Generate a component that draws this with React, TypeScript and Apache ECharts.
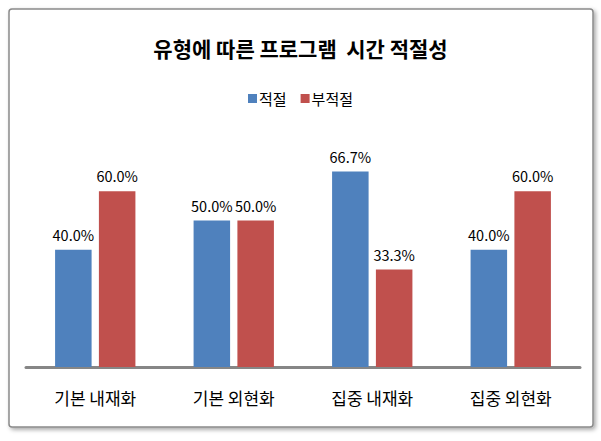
import React, { useEffect, useRef } from "react";
import * as echarts from "echarts";

const categories = ["기본 내재화", "기본 외현화", "집중 내재화", "집중 외현화"];
const seriesNames = ["적절", "부적절"];
const appropriate = [40.0, 50.0, 66.7, 40.0];
const inappropriate = [60.0, 50.0, 33.3, 60.0];
const colors = ["#4F81BD", "#C0504D"];
const titleText = "유형에 따른 프로그램  시간 적절성";

const FONT = "'Noto Sans CJK KR', 'Noto Sans', sans-serif";

export default function App() {
  const ref = useRef<HTMLDivElement>(null);
  useEffect(() => {
    if (!ref.current) return;
    const chart = echarts.init(ref.current, undefined, { renderer: "svg" });
    const label = {
      show: true,
      position: "top" as const,
      distance: 8,
      formatter: (p: any) => p.value.toFixed(1) + "%",
      color: "#000",
      fontSize: 14.5,
      fontFamily: FONT,
    };
    chart.setOption({
      animation: false,
      backgroundColor: "#fff",
      textStyle: { fontFamily: FONT },
      graphic: [
        {
          type: "rect",
          shape: { x: 9, y: 9, width: 584, height: 418, r: 3 },
          style: {
            fill: "#fff",
            stroke: "#8a8a8a",
            lineWidth: 1.5,
            shadowBlur: 4,
            shadowOffsetX: 2,
            shadowOffsetY: 2,
            shadowColor: "rgba(0,0,0,0.35)",
          },
          z: -10,
          silent: true,
        },
      ],
      title: {
        text: titleText,
        left: "center",
        top: 32,
        textStyle: { fontSize: 21, fontWeight: "bold", color: "#000", fontFamily: FONT },
      },
      legend: {
        data: seriesNames,
        top: 86,
        left: "center",
        itemWidth: 9,
        itemHeight: 9,
        itemGap: 14,
        icon: "rect",
        textStyle: { fontSize: 15, color: "#000", fontFamily: FONT, padding: [0, 0, 0, -3] },
      },
      grid: { left: 26, right: 21, top: 74, bottom: 74, containLabel: false },
      xAxis: {
        type: "category",
        data: categories,
        axisLine: { show: true, lineStyle: { color: "#868686", width: 3 } },
        axisTick: { show: false },
        axisLabel: { fontSize: 17, color: "#000", margin: 22, fontFamily: FONT },
      },
      yAxis: {
        type: "value",
        min: 0,
        max: 100,
        show: false,
        splitLine: { show: false },
      },
      series: [
        {
          name: seriesNames[0],
          type: "bar",
          data: appropriate,
          itemStyle: { color: colors[0] },
          barGap: "20%",
          barCategoryGap: "42%",
          label,
        },
        {
          name: seriesNames[1],
          type: "bar",
          data: inappropriate,
          itemStyle: { color: colors[1] },
          label,
        },
      ],
    });
    return () => chart.dispose();
  }, []);
  return (
    <div
      ref={ref}
      style={{ position: "fixed", left: 0, top: 0, width: 601, height: 441 }}
    />
  );
}
